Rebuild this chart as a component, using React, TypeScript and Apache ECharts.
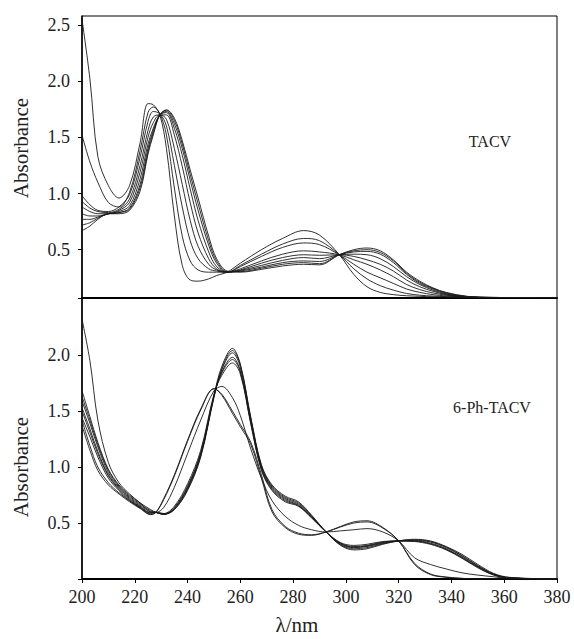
import React, { useEffect, useRef } from "react";
import * as echarts from "echarts";

// ---------- TACV (top panel) ----------
const topWavelengths = [200, 203, 206, 210, 214, 218, 222, 225, 227, 229.5, 232, 235, 238, 241, 244, 248, 251, 255, 260, 268, 276, 284, 290, 297.5, 303, 308, 313, 318, 323, 328, 333, 338, 346, 355, 380];

const tacv0 = [2.55, 2.02, 1.33, 1.07, 0.96, 1.07, 1.45, 1.80, 1.79, 1.70, 1.40, 0.80, 0.36, 0.23, 0.22, 0.24, 0.27, 0.30, 0.38, 0.50, 0.60, 0.67, 0.63, 0.455, 0.28, 0.17, 0.12, 0.10, 0.09, 0.085, 0.08, 0.078, 0.075, 0.074, 0.073];
const tacv1 = [1.52, 1.28, 1.10, 0.92, 0.88, 1.01, 1.38, 1.72, 1.77, 1.71, 1.52, 1.05, 0.62, 0.40, 0.32, 0.30, 0.30, 0.30, 0.36, 0.46, 0.55, 0.60, 0.58, 0.455, 0.33, 0.24, 0.18, 0.14, 0.11, 0.095, 0.087, 0.082, 0.076, 0.074, 0.073];
const tacv2 = [0.98, 0.90, 0.85, 0.84, 0.88, 0.99, 1.32, 1.64, 1.73, 1.71, 1.60, 1.25, 0.88, 0.58, 0.42, 0.33, 0.31, 0.30, 0.35, 0.44, 0.52, 0.56, 0.545, 0.455, 0.37, 0.30, 0.25, 0.20, 0.15, 0.12, 0.10, 0.088, 0.077, 0.074, 0.073];
const tacv3 = [0.93, 0.87, 0.84, 0.83, 0.86, 0.95, 1.25, 1.56, 1.68, 1.70, 1.66, 1.40, 1.08, 0.76, 0.53, 0.37, 0.32, 0.30, 0.33, 0.40, 0.46, 0.49, 0.48, 0.455, 0.41, 0.37, 0.32, 0.26, 0.19, 0.145, 0.115, 0.095, 0.078, 0.074, 0.073];
const tacv4 = [0.88, 0.84, 0.82, 0.82, 0.85, 0.92, 1.19, 1.50, 1.63, 1.70, 1.70, 1.52, 1.24, 0.92, 0.65, 0.42, 0.33, 0.30, 0.32, 0.38, 0.43, 0.455, 0.45, 0.455, 0.44, 0.41, 0.37, 0.31, 0.23, 0.17, 0.13, 0.10, 0.08, 0.075, 0.073];
const tacv5 = [0.82, 0.80, 0.80, 0.82, 0.84, 0.89, 1.13, 1.44, 1.58, 1.70, 1.72, 1.58, 1.34, 1.04, 0.76, 0.48, 0.35, 0.30, 0.315, 0.36, 0.405, 0.43, 0.42, 0.455, 0.46, 0.455, 0.42, 0.35, 0.26, 0.19, 0.14, 0.105, 0.08, 0.075, 0.073];
const tacv6 = [0.77, 0.77, 0.79, 0.82, 0.83, 0.87, 1.08, 1.40, 1.56, 1.70, 1.73, 1.62, 1.40, 1.12, 0.85, 0.54, 0.38, 0.30, 0.31, 0.345, 0.385, 0.40, 0.395, 0.455, 0.48, 0.485, 0.46, 0.385, 0.28, 0.20, 0.15, 0.11, 0.082, 0.075, 0.073];
const tacv7 = [0.72, 0.74, 0.78, 0.82, 0.83, 0.86, 1.05, 1.37, 1.54, 1.70, 1.74, 1.65, 1.44, 1.17, 0.91, 0.58, 0.40, 0.305, 0.305, 0.335, 0.37, 0.385, 0.375, 0.455, 0.49, 0.50, 0.475, 0.40, 0.29, 0.21, 0.155, 0.115, 0.083, 0.075, 0.073];
const tacv8 = [0.67, 0.71, 0.77, 0.82, 0.82, 0.85, 1.02, 1.35, 1.52, 1.70, 1.745, 1.67, 1.47, 1.21, 0.96, 0.62, 0.42, 0.31, 0.30, 0.325, 0.355, 0.37, 0.365, 0.455, 0.50, 0.515, 0.49, 0.41, 0.30, 0.22, 0.16, 0.12, 0.085, 0.075, 0.073];
const topCurves = [tacv0, tacv1, tacv2, tacv3, tacv4, tacv5, tacv6, tacv7, tacv8];

// ---------- 6-Ph-TACV (bottom panel) ----------
const bottomWavelengths = [200, 203, 206, 210, 214, 218, 222, 226, 228, 231, 235, 240, 245, 250, 253, 257, 260, 264, 268, 272, 277, 282, 287, 292.5, 298, 303, 308, 314, 320, 326, 332, 338, 344, 350, 356, 362, 380];

const phE2 = [2.32, 1.95, 1.42, 1.04, 0.86, 0.76, 0.68, 0.60, 0.595, 0.64, 0.82, 1.12, 1.42, 1.68, 1.72, 1.62, 1.46, 1.16, 0.90, 0.70, 0.56, 0.48, 0.44, 0.42, 0.43, 0.44, 0.45, 0.42, 0.34, 0.19, 0.13, 0.09, 0.055, 0.035, 0.02, 0.005, 0];
const phE1 = [1.37, 1.15, 0.97, 0.84, 0.76, 0.69, 0.63, 0.575, 0.595, 0.72, 0.93, 1.24, 1.52, 1.70, 1.64, 1.48, 1.36, 1.20, 0.90, 0.60, 0.46, 0.40, 0.39, 0.42, 0.47, 0.51, 0.52, 0.46, 0.34, 0.13, 0.04, 0.015, 0.005, 0, 0, 0, 0];
const phE1b = [1.42, 1.19, 1.00, 0.86, 0.77, 0.70, 0.635, 0.578, 0.595, 0.71, 0.92, 1.23, 1.51, 1.70, 1.65, 1.50, 1.38, 1.22, 0.93, 0.62, 0.47, 0.41, 0.395, 0.42, 0.465, 0.50, 0.51, 0.455, 0.34, 0.14, 0.045, 0.018, 0.006, 0, 0, 0, 0];
const phB1 = [1.68, 1.45, 1.22, 0.98, 0.84, 0.75, 0.68, 0.62, 0.595, 0.58, 0.62, 0.80, 1.10, 1.64, 1.90, 2.06, 1.92, 1.44, 1.02, 0.84, 0.74, 0.69, 0.57, 0.42, 0.30, 0.26, 0.27, 0.31, 0.34, 0.355, 0.34, 0.29, 0.22, 0.13, 0.05, 0.015, 0];
const phB2 = [1.63, 1.42, 1.20, 0.97, 0.83, 0.74, 0.67, 0.61, 0.595, 0.578, 0.62, 0.79, 1.09, 1.62, 1.88, 2.04, 1.91, 1.43, 1.01, 0.83, 0.73, 0.68, 0.565, 0.42, 0.305, 0.27, 0.28, 0.315, 0.342, 0.35, 0.335, 0.285, 0.21, 0.12, 0.045, 0.012, 0];
const phB3 = [1.59, 1.39, 1.18, 0.95, 0.82, 0.73, 0.66, 0.60, 0.595, 0.576, 0.63, 0.81, 1.11, 1.63, 1.87, 2.02, 1.89, 1.42, 1.00, 0.82, 0.72, 0.67, 0.56, 0.42, 0.31, 0.28, 0.29, 0.32, 0.34, 0.345, 0.33, 0.28, 0.205, 0.115, 0.04, 0.01, 0];
const phB4 = [1.53, 1.34, 1.14, 0.93, 0.81, 0.72, 0.65, 0.595, 0.595, 0.58, 0.63, 0.82, 1.12, 1.63, 1.85, 1.98, 1.86, 1.40, 0.99, 0.81, 0.71, 0.66, 0.555, 0.42, 0.315, 0.285, 0.295, 0.325, 0.34, 0.34, 0.32, 0.27, 0.195, 0.11, 0.04, 0.01, 0];
const phB5 = [1.50, 1.31, 1.12, 0.92, 0.80, 0.71, 0.645, 0.59, 0.595, 0.582, 0.64, 0.83, 1.13, 1.64, 1.84, 1.96, 1.85, 1.39, 0.98, 0.80, 0.70, 0.655, 0.55, 0.42, 0.32, 0.29, 0.30, 0.33, 0.34, 0.338, 0.315, 0.265, 0.19, 0.105, 0.038, 0.01, 0];
const phB6 = [1.44, 1.27, 1.09, 0.90, 0.79, 0.70, 0.64, 0.585, 0.595, 0.585, 0.65, 0.85, 1.15, 1.65, 1.82, 1.93, 1.83, 1.38, 0.97, 0.79, 0.69, 0.65, 0.545, 0.42, 0.325, 0.30, 0.31, 0.335, 0.34, 0.335, 0.31, 0.26, 0.185, 0.10, 0.035, 0.008, 0];
const bottomCurves = [phE2, phE1, phE1b, phB1, phB2, phB3, phB4, phB5, phB6];

// ---------- ticks / labels ----------
const topYTickLabels = [0.5, 1.0, 1.5, 2.0, 2.5];
const bottomYTickLabels = [0.5, 1.0, 1.5, 2.0];
const topLabel = "TACV";
const bottomLabel = "6-Ph-TACV";
const yTitle = "Absorbance";
const xTitle = "λ/nm";

const FONT = "Liberation Serif, Times New Roman, serif";

export default function App() {
  const ref = useRef<HTMLDivElement>(null);

  useEffect(() => {
    if (!ref.current) return;
    const chart = echarts.init(ref.current, undefined, { renderer: "svg" });

    const lineStyle = { color: "#1a1a1a", width: 0.9 };
    const mk = (xs: number[], ys: number[], idx: number) => ({
      type: "line",
      xAxisIndex: idx,
      yAxisIndex: idx,
      data: xs.map((x, i) => [x, ys[i]]),
      showSymbol: false,
      symbol: "none",
      smooth: 0.35,
      lineStyle,
      silent: true,
    });

    const series = [
      ...topCurves.map((c) => mk(topWavelengths, c, 0)),
      ...bottomCurves.map((c) => mk(bottomWavelengths, c, 1)),
    ];

    const tickLabel = { fontFamily: FONT, fontSize: 18, color: "#222" };

    chart.setOption({
      animation: false,
      grid: [
        { left: 82, top: 16, width: 475, height: 282, show: true, borderColor: "#000", borderWidth: 1 },
        { left: 82, top: 298, width: 475, height: 281, show: true, borderColor: "#000", borderWidth: 1 },
      ],
      xAxis: [
        {
          gridIndex: 0, type: "value", min: 200, max: 380, interval: 20,
          axisLine: { show: true, lineStyle: { color: "#000", width: 2 } },
          axisTick: { show: false }, axisLabel: { show: false }, splitLine: { show: false },
        },
        {
          gridIndex: 1, type: "value", min: 200, max: 380, interval: 20,
          axisLine: { show: true, lineStyle: { color: "#000", width: 2 } },
          axisTick: { show: true, length: 4, lineStyle: { color: "#000" } },
          axisLabel: { ...tickLabel, margin: 9 },
          splitLine: { show: false },
        },
      ],
      yAxis: [
        {
          gridIndex: 0, type: "value", min: 0.07, max: 2.58,
          axisLine: { show: true, lineStyle: { color: "#000", width: 1.5 } },
          axisTick: { show: true, length: 4, lineStyle: { color: "#000" }, customValues: [0.07, ...topYTickLabels] },
          axisLabel: { ...tickLabel, margin: 12, customValues: topYTickLabels, formatter: (v: number) => v.toFixed(1) },
          splitLine: { show: false },
        },
        {
          gridIndex: 1, type: "value", min: 0, max: 2.51,
          axisLine: { show: true, lineStyle: { color: "#000", width: 1.5 } },
          axisTick: { show: true, length: 4, lineStyle: { color: "#000" }, customValues: [0, ...bottomYTickLabels] },
          axisLabel: { ...tickLabel, margin: 12, customValues: bottomYTickLabels, formatter: (v: number) => v.toFixed(1) },
          splitLine: { show: false },
        },
      ],
      graphic: [
        { type: "text", x: 21, y: 148, rotation: Math.PI / 2, style: { text: yTitle, fontFamily: FONT, fontSize: 21, fill: "#222", align: "center", verticalAlign: "middle", textAlign: "center", textVerticalAlign: "middle" } },
        { type: "text", x: 21, y: 467, rotation: Math.PI / 2, style: { text: yTitle, fontFamily: FONT, fontSize: 21, fill: "#222", align: "center", verticalAlign: "middle", textAlign: "center", textVerticalAlign: "middle" } },
        { type: "text", x: 490, y: 141, style: { text: topLabel, fontFamily: FONT, fontSize: 16, fill: "#222", align: "center", verticalAlign: "middle", textAlign: "center", textVerticalAlign: "middle" } },
        { type: "text", x: 492, y: 407, style: { text: bottomLabel, fontFamily: FONT, fontSize: 16, fill: "#222", align: "center", verticalAlign: "middle", textAlign: "center", textVerticalAlign: "middle" } },
        { type: "text", x: 297, y: 625, style: { text: xTitle, fontFamily: FONT, fontSize: 21, fill: "#222", align: "center", verticalAlign: "middle", textAlign: "center", textVerticalAlign: "middle" } },
      ],
      series,
    });

    return () => chart.dispose();
  }, []);

  return (
    <div
      ref={ref}
      style={{ position: "fixed", left: 0, top: 0, width: 574, height: 639, background: "#fff" }}
    />
  );
}
